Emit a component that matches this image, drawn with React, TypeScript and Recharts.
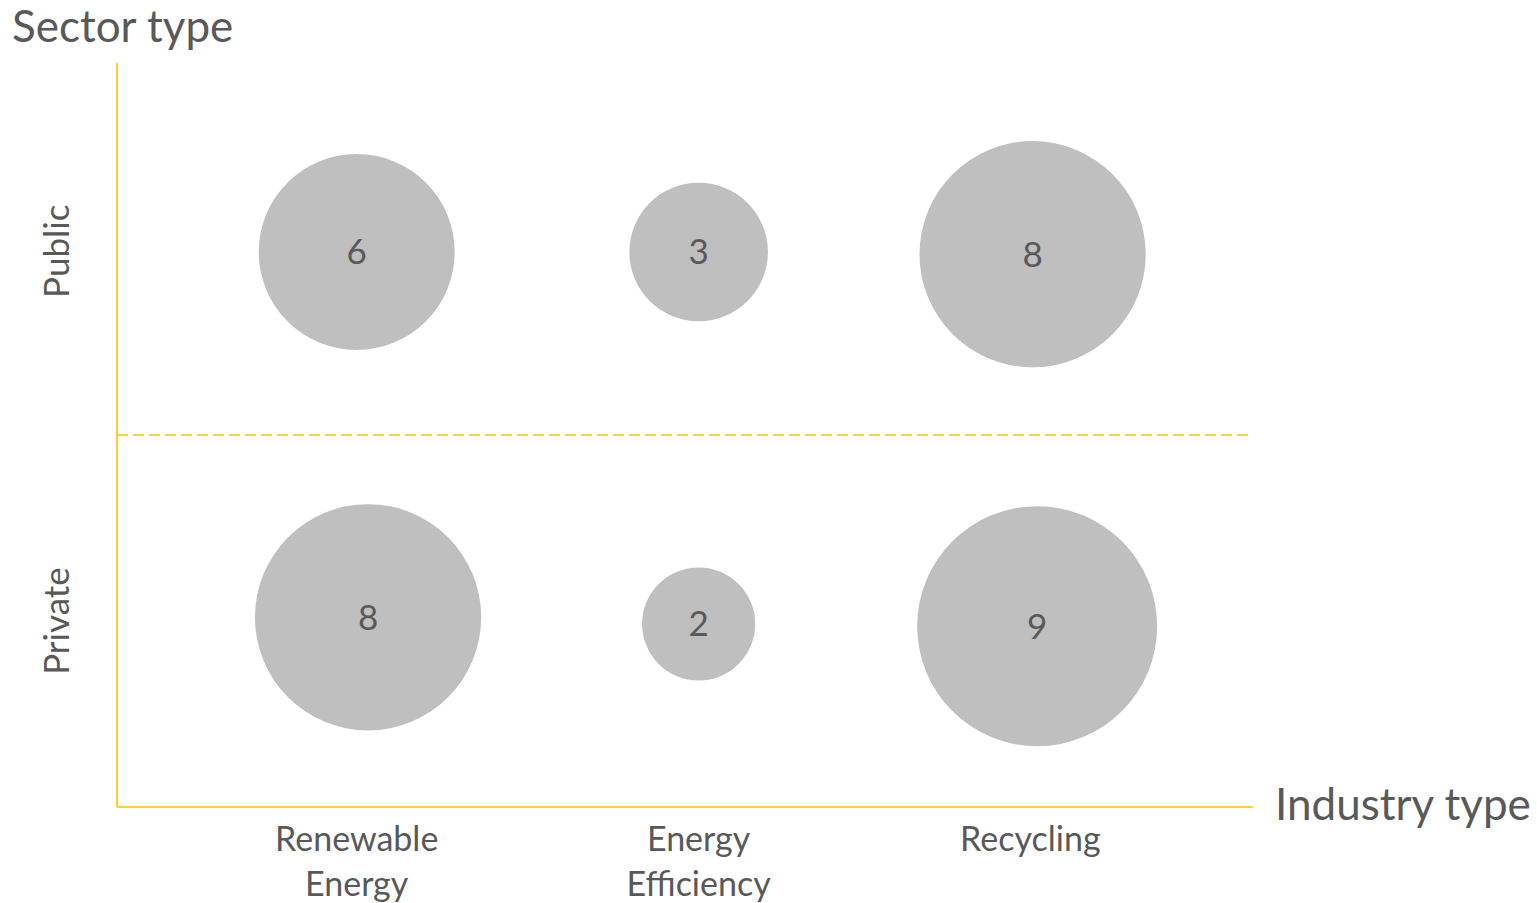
import {
  ScatterChart,
  Scatter,
  XAxis,
  YAxis,
  ZAxis,
  ReferenceLine,
  LabelList,
} from "recharts";

const industries = ["Renewable Energy", "Energy Efficiency", "Recycling"];
const industryPos = [2.11, 5.12, 8.04];

const sectors = ["Public", "Private"];
const sectorPos = [7.47, 2.5];

const publicX = [2.11, 5.12, 8.06];
const publicY = [7.46, 7.46, 7.43];
const publicValues = [6, 3, 8];

const privateX = [2.21, 5.12, 8.1];
const privateY = [2.55, 2.46, 2.43];
const privateValues = [8, 2, 9];

const axisColor = "#FFC000";
const textColor = "#595959";
const font = "Lato, 'Open Sans', sans-serif";

const publicData = publicX.map((x, i) => ({ x, y: publicY[i], value: publicValues[i] }));
const privateData = privateX.map((x, i) => ({ x, y: privateY[i], value: privateValues[i] }));

// eslint-disable-next-line @typescript-eslint/no-explicit-any
function IndustryTick({ x, y, payload }: any) {
  const idx = industryPos.indexOf(payload.value);
  const words = (industries[idx] ?? "").split(" ");
  return (
    <text x={x} y={y} textAnchor="middle" fill={textColor} fontSize={34} fontFamily={font}>
      {words.map((w, i) => (
        <tspan key={i} x={x} dy={i === 0 ? 44 : 45}>
          {w}
        </tspan>
      ))}
    </text>
  );
}

// eslint-disable-next-line @typescript-eslint/no-explicit-any
function SectorTick({ y, payload }: any) {
  const idx = sectorPos.indexOf(payload.value);
  return (
    <text
      x={69}
      y={y}
      textAnchor="middle"
      transform={`rotate(-90, 69, ${y})`}
      fill={textColor}
      fontSize={35}
      fontFamily={font}
    >
      {sectors[idx]}
    </text>
  );
}

export default function App() {
  return (
    <div style={{ position: "absolute", left: 0, top: 0, width: 1537, height: 903, background: "#fff" }}>
      <ScatterChart width={1537} height={903} margin={{ top: 63, right: 284, bottom: 0, left: 0 }}>
        <XAxis
          type="number"
          dataKey="x"
          domain={[0, 10]}
          ticks={industryPos}
          tick={<IndustryTick />}
          tickLine={false}
          tickSize={0}
          tickMargin={0}
          height={96}
          axisLine={{ stroke: axisColor, strokeWidth: 1.6 }}
          interval={0}
        />
        <YAxis
          type="number"
          dataKey="y"
          domain={[0, 10]}
          ticks={sectorPos}
          tick={<SectorTick />}
          tickLine={false}
          tickSize={0}
          width={117}
          axisLine={{ stroke: axisColor, strokeWidth: 1.6 }}
          interval={0}
        />
        <ZAxis type="number" dataKey="value" domain={[0, 9]} range={[0, 45239]} />
        <ReferenceLine y={5} stroke={axisColor} strokeWidth={1.5} strokeDasharray="11 5" />
        <Scatter data={publicData} fill="#BFBFBF" isAnimationActive={false}>
          <LabelList dataKey="value" position="center" fill={textColor} fontSize={35} fontFamily={font} />
        </Scatter>
        <Scatter data={privateData} fill="#BFBFBF" isAnimationActive={false}>
          <LabelList dataKey="value" position="center" fill={textColor} fontSize={35} fontFamily={font} />
        </Scatter>
      </ScatterChart>
      <div
        style={{
          position: "absolute",
          left: 12,
          top: -2,
          fontFamily: font,
          fontSize: 44,
          color: textColor,
          lineHeight: "54px",
          whiteSpace: "nowrap",
        }}
      >
        Sector type
      </div>
      <div
        style={{
          position: "absolute",
          left: 1275,
          top: 776,
          fontFamily: font,
          fontSize: 44,
          color: textColor,
          lineHeight: "54px",
          whiteSpace: "nowrap",
        }}
      >
        Industry type
      </div>
    </div>
  );
}
